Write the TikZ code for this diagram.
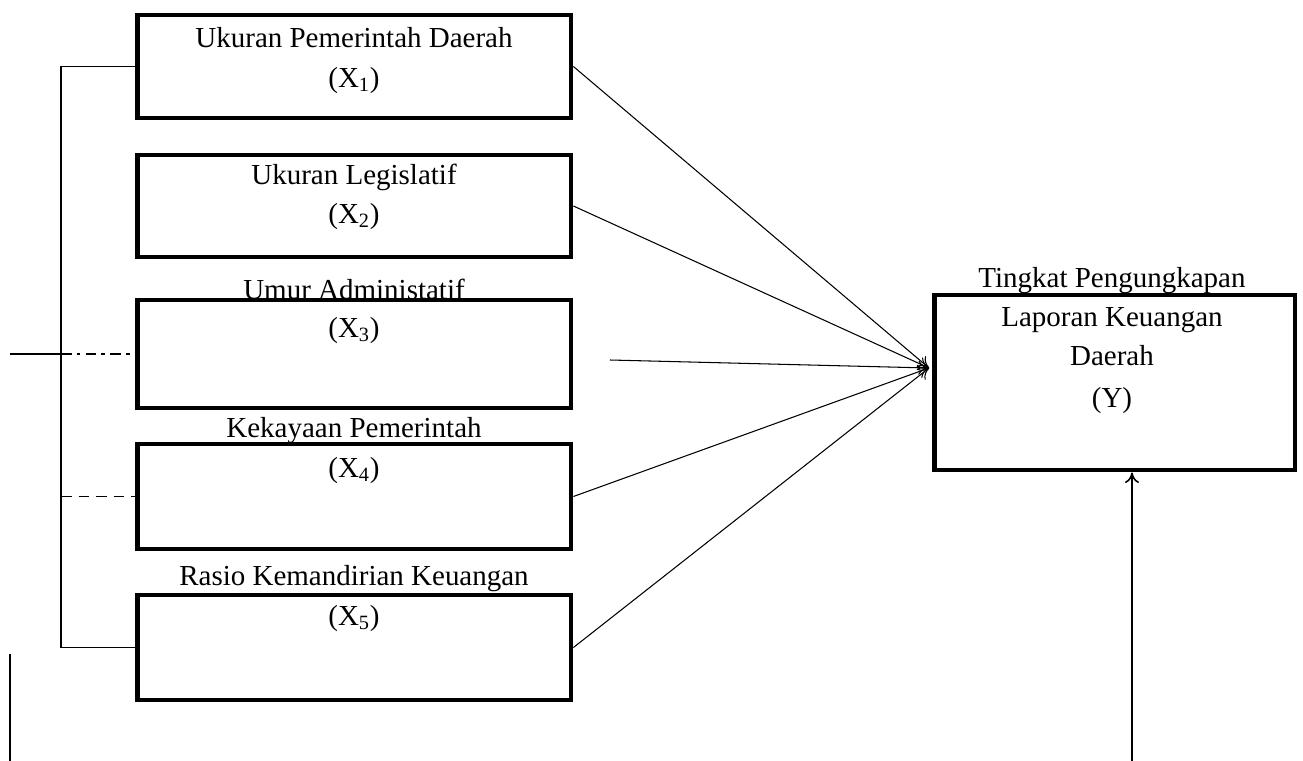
\documentclass[tikz,border=0pt]{standalone}
\usepackage{fontspec}
\setmainfont{Liberation Serif}
\usetikzlibrary{arrows.meta}

\begin{document}
\begin{tikzpicture}[x=0.02cm,y=-0.02cm,
  varbox/.style={draw,line width=2.8pt,minimum width=8.68cm,inner sep=0pt},
  lbl/.style={anchor=base,inner sep=0pt,font=\fontsize{16.5}{19}\selectfont},
  effect/.style={line width=0.6pt,-{To[length=6pt,width=8pt]}},
  link/.style={line width=0.6pt}]
\useasboundingbox (0,0) rectangle (1303,761);

\node[lbl] (t1) at (354,47) {Ukuran Pemerintah Daerah};
\node[lbl] (s1) at (354,87) {(X\textsubscript{1})};
\node[lbl] (t2) at (354,184) {Ukuran Legislatif};
\node[lbl] (s2) at (354,223) {(X\textsubscript{2})};
\node[lbl] (t3) at (354,299) {Umur Administatif};
\node[lbl] (s3) at (354,337) {(X\textsubscript{3})};
\node[lbl] (t4) at (354,437) {Kekayaan Pemerintah};
\node[lbl] (s4) at (354,477) {(X\textsubscript{4})};
\node[lbl] (t5) at (354,585) {Rasio Kemandirian Keuangan};
\node[lbl] (s5) at (354,625) {(X\textsubscript{5})};
\node[lbl] (ty1) at (1112,287) {Tingkat Pengungkapan};
\node[lbl] (ty2) at (1112,326) {Laporan Keuangan};
\node[lbl] (ty3) at (1112,365) {Daerah};
\node[lbl] (ty4) at (1112,407) {(Y)};

\node[varbox,minimum height=2.06cm] (x1) at (354,66.5) {};
\node[varbox,minimum height=2.04cm] (x2) at (354,206) {};
\node[varbox,minimum height=2.16cm] (x3) at (354,354) {};
\node[varbox,minimum height=2.1cm] (x4) at (354,496.5) {};
\node[varbox,minimum height=2.1cm] (x5) at (354,647.5) {};
\node[varbox,minimum width=7.22cm,minimum height=3.5cm] (y) at (1114.5,382.5) {};

\coordinate (brk) at (61,0);
\coordinate (lft) at (10,0);
\coordinate (hub) at (929,368);
\coordinate (x3s) at (610,360);
\coordinate (foot) at (1132,761);
\coordinate (low1) at (10,654);
\coordinate (low2) at (10,761);

\draw[link] (x1.west) -- (x1.west -| brk) -- (x5.west -| brk) -- (x5.west);
\draw[link] (x3.west -| lft) -- (x3.west -| brk);
\draw[link,dash pattern=on 6pt off 3pt on 2pt off 3pt] (x3.west -| brk) -- (x3.west);
\draw[link,dash pattern=on 6pt off 4pt] (x4.west -| brk) -- (x4.west);
\draw[line width=1.5pt] (low1) -- (low2);

\foreach \v in {x1,x2,x4,x5}
  \draw[effect] (\v.east) -- (hub);
\draw[effect] (x3s) -- (hub);
\draw[effect,line width=0.9pt] (foot) -- (foot |- y.south);
\end{tikzpicture}
\end{document}
